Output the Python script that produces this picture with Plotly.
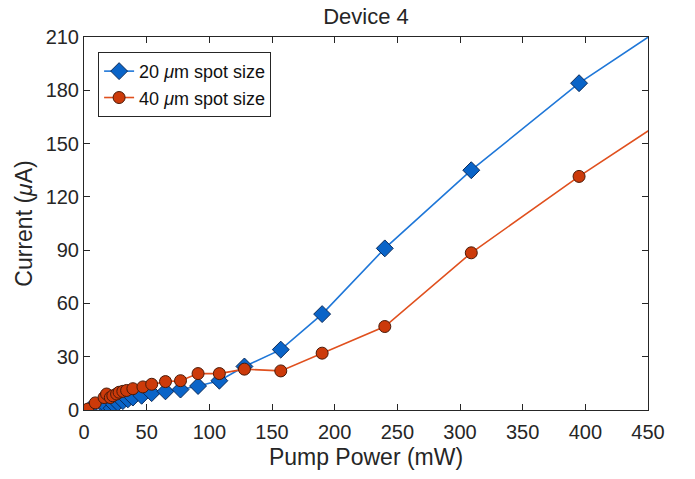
import plotly.graph_objects as go

# Pump power (mW) and current (uA)
power_20 = [4, 15, 18, 22, 24, 27, 31, 35, 39, 46, 54, 65, 77, 91, 108, 128, 157, 190, 240, 309, 395, 480]
current_20 = [0, 3, 2, 1, 3, 4, 5, 6, 7, 8, 9.5, 10.5, 11.5, 13.5, 16.5, 24.5, 34, 54, 91, 135, 184, 224]

power_40 = [3, 9, 16, 18, 21, 23, 26, 28, 31, 34, 39, 47, 54, 65, 77, 91, 108, 128, 157, 190, 240, 309, 395, 480]
current_40 = [0.5, 4, 7, 9, 7, 8, 9, 10, 10.5, 11, 12, 13, 14.5, 16, 16.5, 20.5, 20.5, 23, 22, 32, 47, 88.5, 131.5, 171]

x_ticks = list(range(0, 451, 50))
y_ticks = list(range(0, 211, 30))

font_family = "Liberation Sans, Arial, sans-serif"

fig = go.Figure()
fig.add_trace(go.Scatter(
    x=power_20, y=current_20, mode="lines+markers",
    name="20 <i>μ</i>m spot size",
    line=dict(color="#1f77d8", width=1.6),
    marker=dict(symbol="diamond", size=13, color="#0a64c8",
                line=dict(color="#0a2a5a", width=1)),
))
fig.add_trace(go.Scatter(
    x=power_40, y=current_40, mode="lines+markers",
    name="40 <i>μ</i>m spot size",
    line=dict(color="#e0501e", width=1.6),
    marker=dict(symbol="circle", size=12, color="#cc3a0a",
                line=dict(color="#4a1a08", width=1)),
))

axis_common = dict(
    showgrid=False, zeroline=False, showline=True, linecolor="#262626",
    linewidth=1, mirror="allticks", ticks="inside", ticklen=6,
    tickcolor="#262626", automargin=False,
    tickfont=dict(size=20, color="#262626", family=font_family),
)

fig.update_layout(
    width=695, height=479,
    margin=dict(l=84, r=47, t=37, b=69),
    paper_bgcolor="white", plot_bgcolor="white",
    font=dict(family=font_family, color="#262626"),
    title=dict(text="Device 4", x=0.5, xanchor="center", xref="paper",
               y=1 - 16 / 479, yanchor="middle",
               font=dict(size=22, color="#262626", family=font_family)),
    xaxis=dict(range=[0, 450], tickvals=x_ticks, ticklabelstandoff=4,
               title=dict(text="Pump Power (mW)", font=dict(size=23), standoff=6),
               **axis_common),
    yaxis=dict(range=[0, 210], tickvals=y_ticks,
               title=dict(text="Current (<i>μ</i>A)", font=dict(size=23), standoff=6),
               **axis_common),
    legend=dict(x=0.025, y=0.96, xanchor="left", yanchor="top",
                bgcolor="white", bordercolor="#262626", borderwidth=1,
                font=dict(size=18, color="#111111", family=font_family),
                tracegroupgap=0, itemwidth=30),
    showlegend=True,
)

fig.write_html("out.html")
